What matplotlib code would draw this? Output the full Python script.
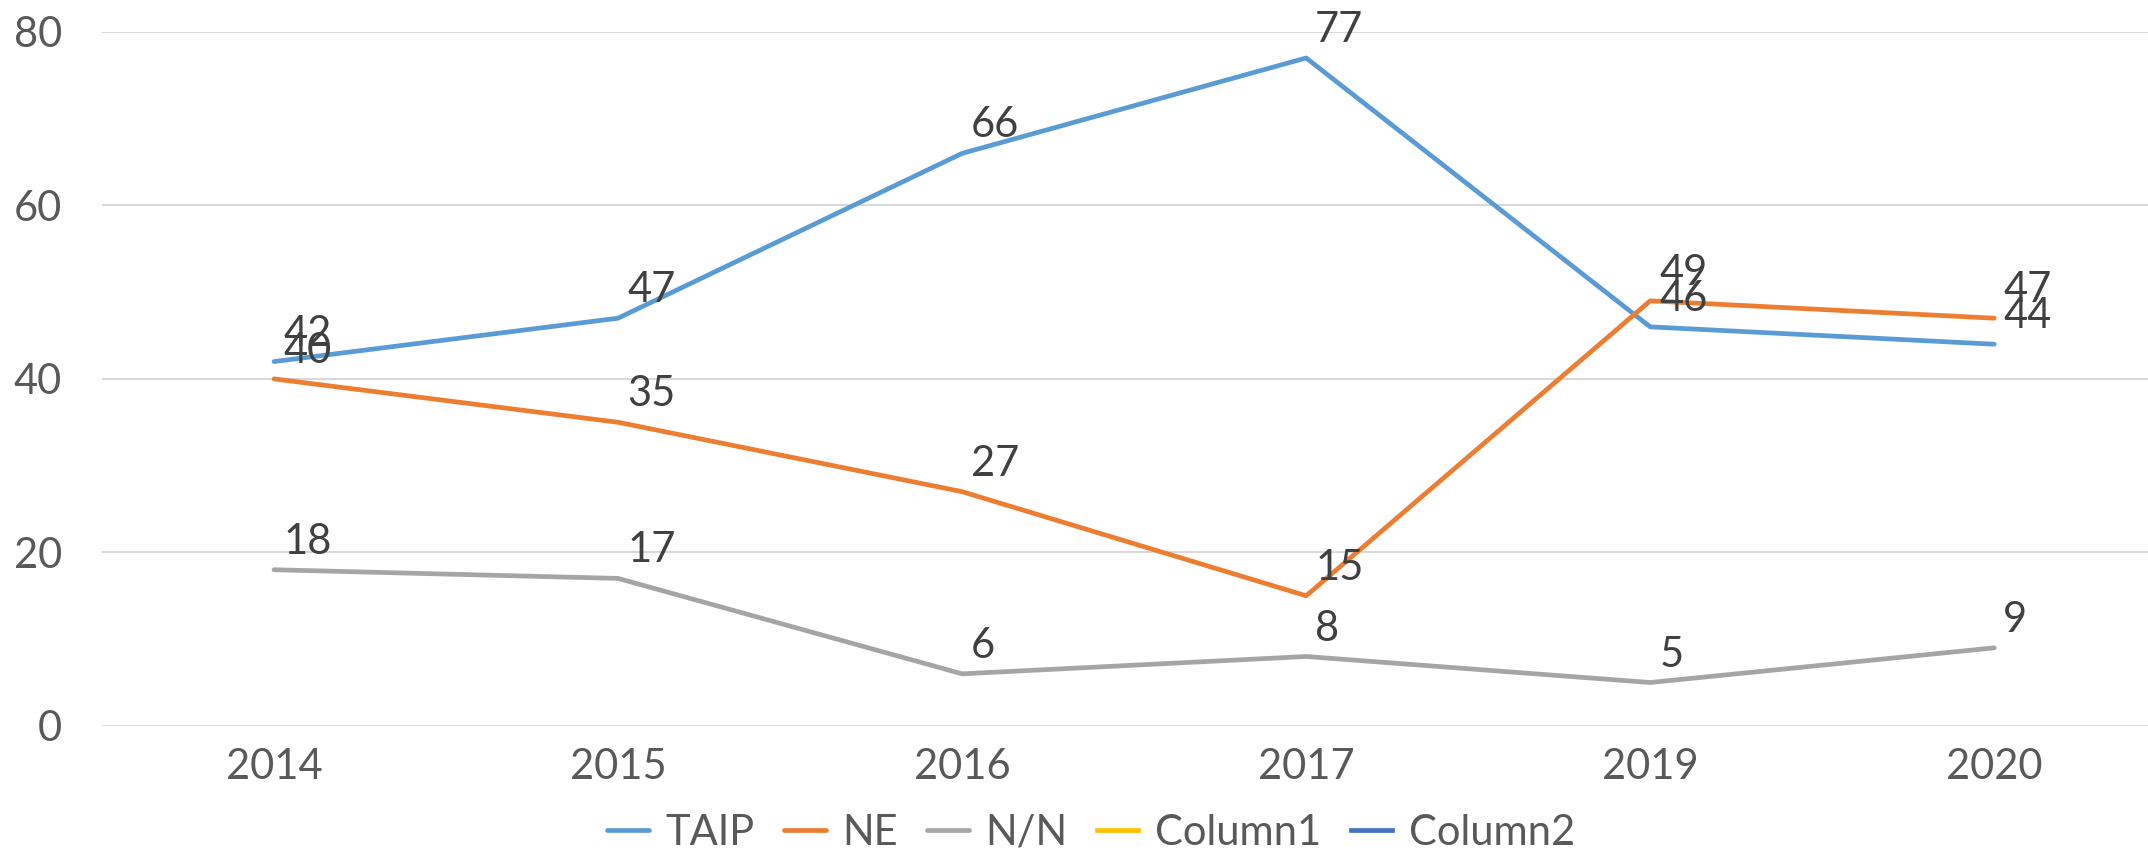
"""TAIP / NE / N/N by year"""
import numpy as np
import matplotlib.pyplot as plt

plt.rcParams['font.family'] = ['Lato', 'DejaVu Sans']

years = ['2014', '2015', '2016', '2017', '2019', '2020']
taip = [42, 47, 66, 77, 46, 44]
ne = [40, 35, 27, 15, 49, 47]
nn = [18, 17, 6, 8, 5, 9]
column1 = []
column2 = []

x = np.arange(len(years))

fig = plt.figure(figsize=(21.48, 8.56), dpi=100)
ax = fig.add_axes([0.0475, 0.152, 0.961, 0.8107])

series = [(taip, 'TAIP', '#5B9BD5'),
          (ne, 'NE', '#ED7D31'),
          (nn, 'N/N', '#A5A5A5')]
for vals, name, col in series:
    ax.plot(x, vals, color=col, lw=3.4, solid_capstyle='round',
            solid_joinstyle='round', label=name, zorder=3)
    # value labels, up and to the right of each point
    for xi, v in zip(x, vals):
        ax.annotate('%d' % v, (xi, v), xytext=(6.5, 11.5),
                    textcoords='offset points', ha='left', va='baseline',
                    fontsize=30, color='#404040', zorder=4)

# empty series, only in the legend
ax.plot(x[:len(column1)], column1, color='#FFC000', lw=3.4, label='Column1')
ax.plot(x[:len(column2)], column2, color='#4472C4', lw=3.4, label='Column2')

ax.set_xlim(-0.5, len(years) - 0.5)
ax.set_ylim(0, 80)
ax.set_yticks([0, 20, 40, 60, 80])
ax.set_xticks(x)
ax.set_xticklabels(years)
ax.grid(axis='y', color='#D9D9D9', lw=1.5)
ax.set_axisbelow(True)
for s in ax.spines.values():
    s.set_visible(False)
ax.tick_params(axis='y', length=0, pad=29, labelsize=30, labelcolor='#595959')
ax.tick_params(axis='x', length=0, pad=16, labelsize=30, labelcolor='#595959')

ax.legend(loc='center', bbox_to_anchor=(0.508, 0.027),
          bbox_transform=fig.transFigure, ncol=5, frameon=False,
          fontsize=30, labelcolor='#595959', handlelength=1.0,
          handletextpad=0.4, columnspacing=0.7)

plt.savefig('out.png', dpi=100)
